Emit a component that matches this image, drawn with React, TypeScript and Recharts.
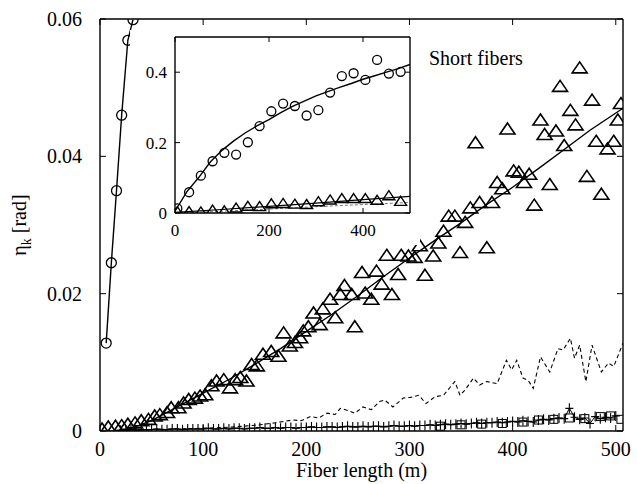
import React from "react";
import { ComposedChart, Line, Scatter, XAxis, YAxis, Label } from "recharts";

const FONT = "Liberation Serif";

// ---------- main plot ----------
const xTicks = [0, 100, 200, 300, 400, 500];
const yTicks = [0, 0.02, 0.04, 0.06];

// short fibers on the long-fiber scale (circles, joined)
const shortX = [6, 11, 16, 21, 27, 32];
const shortY = [0.0128, 0.0245, 0.035, 0.046, 0.0569, 0.0599];

// triangles (measured) and fitted curve
const triX = [
  2, 8, 15, 21, 27, 34, 40, 47, 53, 58, 65, 69, 76, 81, 86, 92, 97, 102, 108, 113,
  120, 126, 131, 136, 142, 147, 152, 158, 166, 173, 178, 184, 189, 194, 197, 202, 207, 213, 216, 223,
  228, 233, 237, 244, 247, 254, 257, 263, 268, 273, 278, 283, 289, 292, 299, 305, 310, 315, 323, 328,
  333, 338, 344, 349, 354, 359, 364, 368, 375, 380, 385, 390, 395, 401, 406, 411, 416, 421, 427, 431,
  436, 442, 446, 450, 456, 461, 465, 472, 477, 481, 486, 492, 498, 502, 505,
];
const triY = [
  0.0002, 0.0005, 0.0006, 0.0007, 0.0009, 0.0011, 0.0014, 0.0016, 0.0021, 0.0023, 0.0026, 0.0033, 0.0033, 0.004, 0.0045, 0.0047, 0.005, 0.0052, 0.0065, 0.0072,
  0.0074, 0.0062, 0.0074, 0.0077, 0.0072, 0.0096, 0.0094, 0.0111, 0.0115, 0.0108, 0.0142, 0.0123, 0.0128, 0.0135, 0.0145, 0.0151, 0.0171, 0.0154, 0.0177, 0.0191,
  0.0164, 0.0198, 0.0211, 0.0198, 0.0151, 0.023, 0.02, 0.0191, 0.0232, 0.0213, 0.0255, 0.0198, 0.0227, 0.0255, 0.0254, 0.0252, 0.0269, 0.0226, 0.0254, 0.0273,
  0.029, 0.0312, 0.0312, 0.0259, 0.0303, 0.0324, 0.0419, 0.0332, 0.0266, 0.0332, 0.0361, 0.0352, 0.0439, 0.0378, 0.0376, 0.0361, 0.0373, 0.0328, 0.0452, 0.0431,
  0.0358, 0.0436, 0.0501, 0.0415, 0.0466, 0.0445, 0.0528, 0.037, 0.0481, 0.0421, 0.0344, 0.041, 0.0421, 0.0452, 0.0476,
];
const fitX = [25, 50, 75, 100, 125, 150, 175, 200, 225, 250, 275, 300, 325, 350, 375, 400, 425, 450, 475, 507];
const fitY = [0.0001, 0.0015, 0.0035, 0.0055, 0.0075, 0.0097, 0.012, 0.0145, 0.017, 0.0197, 0.0225, 0.0252, 0.0278, 0.0303, 0.033, 0.0355, 0.0382, 0.041, 0.0438, 0.047];

// dashed curve
const dashX = [
  25, 50, 75, 100, 120, 140, 155, 170, 187, 195, 204, 212, 220, 228, 233, 240, 247, 255, 263, 271,
  276, 284, 294, 301, 309, 316, 325, 333, 344, 349, 354, 362, 368, 375, 385, 394, 399, 404, 410, 415,
  420, 427, 436, 444, 449, 456, 460, 465, 471, 477, 486, 493, 498, 507,
];
const dashY = [
  0.0001, 0.0002, 0.0003, 0.0004, 0.0005, 0.0007, 0.0009, 0.0012, 0.0016, 0.0015, 0.0021, 0.0019, 0.0026, 0.0024, 0.0033, 0.003, 0.0026, 0.0035, 0.0031, 0.0043,
  0.0045, 0.0035, 0.0048, 0.0049, 0.0052, 0.004, 0.005, 0.0052, 0.0072, 0.0052, 0.006, 0.0077, 0.0067, 0.0072, 0.0069, 0.0103, 0.0089, 0.0103, 0.0077, 0.0074,
  0.0062, 0.0108, 0.0086, 0.012, 0.0118, 0.0135, 0.0106, 0.0125, 0.0072, 0.0125, 0.0086, 0.0099, 0.0094, 0.0128,
];

// crosses
const plusX = [
  20, 25, 30, 35, 40, 45, 50, 55, 60, 65, 70, 75, 80, 85, 90, 95,
  100, 105, 110, 115, 120, 125, 130, 135, 140, 145, 150, 155, 160, 165, 170, 175, 180, 185, 190, 195,
  200, 205, 210, 215, 220, 225, 230, 235, 240, 245, 250, 255, 260, 265, 270, 275, 280, 285, 290, 295,
  300, 305, 310, 315, 320, 325, 330, 335, 340, 345, 350, 355, 360, 365, 370, 375, 380, 385, 390, 395,
  400, 405, 410, 415, 420, 425, 430, 435, 440, 445, 450, 455, 460, 465, 470, 475, 480, 485, 490, 495, 500,
];
const plusY = [
  0.0001, 0.0001, 0.0002, 0.0001, 0.0002, 0.0002, 0.0002, 0.0003, 0.0002, 0.0002, 0.0003, 0.0003, 0.0002, 0.0003, 0.0003, 0.0003,
  0.0003, 0.0004, 0.0003, 0.0003, 0.0004, 0.0003, 0.0004, 0.0004, 0.0003, 0.0004, 0.0004, 0.0005, 0.0004, 0.0004, 0.0005, 0.0004, 0.0005, 0.0005, 0.0004, 0.0005,
  0.0005, 0.0006, 0.0005, 0.0005, 0.0006, 0.0006, 0.0005, 0.0006, 0.0007, 0.0006, 0.0006, 0.0007, 0.0006, 0.0007, 0.0007, 0.0006, 0.0007, 0.0008, 0.0007, 0.0007,
  0.0008, 0.0007, 0.0008, 0.0008, 0.0009, 0.0008, 0.0009, 0.001, 0.0009, 0.001, 0.0011, 0.001, 0.0011, 0.0012, 0.0011, 0.0012, 0.0012, 0.0013, 0.0012, 0.0013,
  0.0014, 0.0013, 0.0015, 0.0014, 0.0013, 0.0016, 0.0017, 0.0016, 0.0018, 0.0019, 0.0018, 0.0033, 0.002, 0.0017, 0.0019, 0.0011, 0.0021, 0.0018, 0.002, 0.0019, 0.0022,
];

// squares
const sqX = [330, 350, 370, 390, 410, 425, 440, 455, 470, 485, 495, 505];
const sqY = [0.0007, 0.0009, 0.001, 0.0011, 0.0013, 0.0016, 0.0017, 0.0019, 0.0018, 0.0021, 0.0022, 0.0017];

// ---------- inset: short fibers ----------
const inXTicks = [0, 200, 400];
const inYTicks = [0, 0.2, 0.4];
const inX = [5, 30, 55, 80, 105, 130, 155, 180, 205, 230, 255, 280, 305, 330, 355, 380, 405, 430, 455, 480];
const inCircY = [0.013, 0.059, 0.106, 0.147, 0.171, 0.166, 0.201, 0.247, 0.289, 0.311, 0.304, 0.277, 0.292, 0.342, 0.389, 0.397, 0.378, 0.435, 0.396, 0.401];
const inTriY = [0.003, 0.003, 0.002, 0.007, 0.005, 0.013, 0.018, 0.017, 0.025, 0.026, 0.024, 0.023, 0.031, 0.036, 0.04, 0.04, 0.04, 0.035, 0.048, 0.032];
const inFitX = [0, 25, 50, 75, 100, 125, 150, 175, 200, 225, 250, 275, 300, 325, 350, 375, 400, 425, 450, 475, 500];
const inFitY = [0.005, 0.06, 0.1, 0.145, 0.178, 0.205, 0.228, 0.248, 0.265, 0.285, 0.303, 0.318, 0.333, 0.345, 0.357, 0.368, 0.38, 0.39, 0.4, 0.41, 0.422];
const inTriFitX = [0, 100, 200, 300, 400, 500];
const inTriFitY = [0.002, 0.01, 0.019, 0.028, 0.038, 0.047];
const inTriDashY = [0, 0.005, 0.011, 0.018, 0.024, 0.03];

const pts = (xs: number[], ys: number[]) => xs.map((x, i) => ({ x, y: ys[i] }));

const circle = (r: number) => (p: any) =>
  p.cx == null || p.cy == null ? null : (
    <circle cx={p.cx} cy={p.cy} r={r} fill="none" stroke="#000" strokeWidth={1.3} />
  );

const triangle = (w: number, h: number, sw: number) => (p: any) =>
  p.cx == null || p.cy == null ? null : (
    <path
      d={`M${p.cx},${p.cy - h * 0.6}L${p.cx + w / 2},${p.cy + h * 0.4}L${p.cx - w / 2},${p.cy + h * 0.4}Z`}
      fill="none"
      stroke="#000"
      strokeWidth={sw}
    />
  );

const plus = (p: any) =>
  p.cx == null || p.cy == null ? null : (
    <path d={`M${p.cx - 4},${p.cy}H${p.cx + 4}M${p.cx},${p.cy - 5}V${p.cy + 5}`} stroke="#000" strokeWidth={1.1} />
  );

const square = (p: any) =>
  p.cx == null || p.cy == null ? null : (
    <rect x={p.cx - 4} y={p.cy - 4} width={8} height={8} fill="none" stroke="#000" strokeWidth={1} />
  );

const YTitle = () => (
  <text x={26} y={225} transform="rotate(-90 26 225)" textAnchor="middle" fontFamily={FONT} fontSize={20} fill="#000">
    η<tspan fontSize={14} dy={5}>k</tspan>
    <tspan dy={-5}> [rad]</tspan>
  </text>
);

const tickStyle = { fontSize: 20, fill: "#000", fontFamily: FONT };
const inTickStyle = { fontSize: 17, fill: "#000", fontFamily: FONT };
const axisLine = { stroke: "#000", strokeWidth: 1.4 };
const blank = () => "";
const fmtMain = (v: number) => (v === 0 ? "0" : v.toFixed(2));
const fmtInset = (v: number) => (v === 0 ? "0" : v.toFixed(1));

export default function App() {
  return (
    <div style={{ position: "absolute", left: 0, top: 0, width: 637, height: 484, background: "#fff", fontFamily: FONT }}>
      <ComposedChart width={637} height={484} margin={{ top: 18, right: 13, left: 0, bottom: 0 }}>
        <XAxis
          dataKey="x"
          type="number"
          domain={[0, 507]}
          ticks={xTicks}
          allowDataOverflow
          height={53}
          tickSize={-6}
          tickMargin={17}
          stroke="#000"
          axisLine={axisLine}
          tick={tickStyle}
          interval={0}
        >
          <Label value="Fiber length (m)" position="insideBottom" offset={7} style={tickStyle} />
        </XAxis>
        <XAxis
          xAxisId="top"
          orientation="top"
          dataKey="x"
          type="number"
          domain={[0, 507]}
          ticks={xTicks}
          allowDataOverflow
          height={1}
          tickSize={-6}
          tickFormatter={blank}
          stroke="#000"
          axisLine={axisLine}
          interval={0}
        />
        <YAxis
          dataKey="y"
          type="number"
          domain={[0, 0.06]}
          ticks={yTicks}
          allowDataOverflow
          width={100}
          tickSize={-6}
          tickMargin={24}
          stroke="#000"
          axisLine={axisLine}
          tick={tickStyle}
          tickFormatter={fmtMain}
          interval={0}
          label={{ content: YTitle }}
        />
        <YAxis
          yAxisId="right"
          orientation="right"
          dataKey="y"
          type="number"
          domain={[0, 0.06]}
          ticks={yTicks}
          allowDataOverflow
          width={1}
          tickSize={-6}
          tickFormatter={blank}
          stroke="#000"
          axisLine={axisLine}
          interval={0}
        />
        <Line data={pts(dashX, dashY)} xAxisId="top" dataKey="y" stroke="#000" strokeWidth={1.1} strokeDasharray="4 3" dot={false} isAnimationActive={false} />
        <Line data={pts(plusX, plusY)} yAxisId="right" dataKey="y" stroke="#000" strokeWidth={1} dot={plus} isAnimationActive={false} />
        <Scatter data={pts(sqX, sqY)} dataKey="y" shape={square} isAnimationActive={false} />
        <Scatter data={pts(triX, triY)} dataKey="y" shape={triangle(15, 11, 1.6)} isAnimationActive={false} />
        <Line data={pts(fitX, fitY)} dataKey="y" stroke="#000" strokeWidth={1.4} dot={false} isAnimationActive={false} />
        <Line data={pts(shortX, shortY)} dataKey="y" stroke="#000" strokeWidth={1.4} dot={circle(5)} isAnimationActive={false} />
      </ComposedChart>

      <div
        style={{
          position: "absolute",
          left: 429,
          top: 48,
          fontFamily: FONT,
          fontSize: 20,
          lineHeight: "20px",
          whiteSpace: "nowrap",
        }}
      >
        Short fibers
      </div>

      <div style={{ position: "absolute", left: 130, top: 30, background: "#fff" }}>
        <ComposedChart width={290} height={215} margin={{ top: 6, right: 9, left: 0, bottom: 0 }}>
          <XAxis
            dataKey="x"
            type="number"
            domain={[0, 500]}
            ticks={inXTicks}
            allowDataOverflow
            height={32}
            tickSize={-5}
            tickMargin={16}
            stroke="#000"
            axisLine={axisLine}
            tick={inTickStyle}
            interval={0}
          />
          <XAxis
            xAxisId="top"
            orientation="top"
            dataKey="x"
            type="number"
            domain={[0, 500]}
            ticks={inXTicks}
            allowDataOverflow
            height={1}
            tickSize={-5}
            tickFormatter={blank}
            stroke="#000"
            axisLine={axisLine}
            interval={0}
          />
          <YAxis
            dataKey="y"
            type="number"
            domain={[0, 0.5]}
            ticks={inYTicks}
            allowDataOverflow
            width={45}
            tickSize={-5}
            tickMargin={13}
            stroke="#000"
            axisLine={axisLine}
            tick={inTickStyle}
            tickFormatter={fmtInset}
            interval={0}
          />
          <YAxis
            yAxisId="right"
            orientation="right"
            dataKey="y"
            type="number"
            domain={[0, 0.5]}
            ticks={inYTicks}
            allowDataOverflow
            width={1}
            tickSize={-5}
            tickFormatter={blank}
            stroke="#000"
            axisLine={axisLine}
            interval={0}
          />
          <Line data={pts(inTriFitX, inTriDashY)} xAxisId="top" dataKey="y" stroke="#777" strokeWidth={1} strokeDasharray="3 2" dot={false} isAnimationActive={false} />
          <Line data={pts(inTriFitX, inTriFitY)} yAxisId="right" dataKey="y" stroke="#000" strokeWidth={1.2} dot={false} isAnimationActive={false} />
          <Scatter data={pts(inX, inTriY)} dataKey="y" shape={triangle(12, 9, 1.4)} isAnimationActive={false} />
          <Line data={pts(inFitX, inFitY)} dataKey="y" stroke="#000" strokeWidth={1.4} dot={false} isAnimationActive={false} />
          <Scatter data={pts(inX, inCircY)} dataKey="y" shape={circle(4.5)} isAnimationActive={false} />
        </ComposedChart>
      </div>
    </div>
  );
}
